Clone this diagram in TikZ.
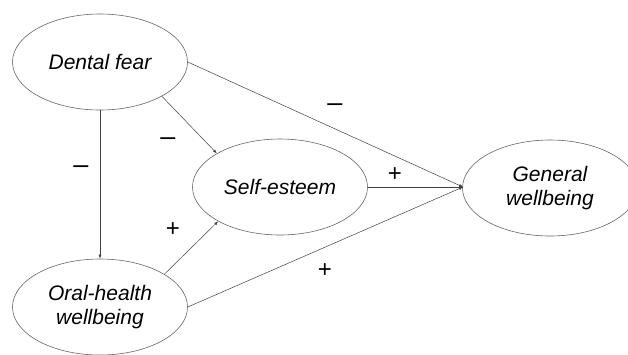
\documentclass[tikz,border=0pt]{standalone}
\usepackage{fontspec}
\setmainfont{Liberation Sans}
\usetikzlibrary{shapes.geometric,arrows.meta}
\begin{document}
\begin{tikzpicture}[x=1pt,y=-1pt,
  latent/.style={draw=black!60,line width=0.6pt,ellipse,minimum width=175pt,minimum height=96pt,inner sep=0pt,align=center,font=\fontsize{21}{24}\selectfont\itshape},
  path/.style={draw=black!75,line width=0.5pt,-{Latex[length=4pt,width=3pt]}},
  sgn/.style={font=\fontsize{24}{24}\selectfont},
  neg/.style={font=\fontsize{27}{27}\selectfont}]
\useasboundingbox (0,0) rectangle (628,354);
\node[latent] (df) at (100,62) {Dental fear};
\node[latent] (oh) at (100,307) {Oral-health\\wellbeing};
\node[latent] (se) at (280,187) {Self-esteem};
\node[latent] (gw) at (550,188) {General\\wellbeing};
\coordinate (gin) at (463,187);
\draw[path] (df.south) -- (oh.north);
\draw[path] (df.-29) -- (se.152);
\draw[path] (oh.27) -- (se.209);
\draw[path] (df.east) -- (gin);
\draw[path] (se.east) -- (gin);
\draw[path] (oh.east) -- (gin);
\node[neg] (m1) at (335,108) {–};
\node[neg] (m2) at (168,142) {–};
\node[neg] (m3) at (81,170) {–};
\node[sgn] (p1) at (395,175) {+};
\node[sgn] (p2) at (173,230) {+};
\node[sgn] (p3) at (325,271) {+};
\end{tikzpicture}
\end{document}
